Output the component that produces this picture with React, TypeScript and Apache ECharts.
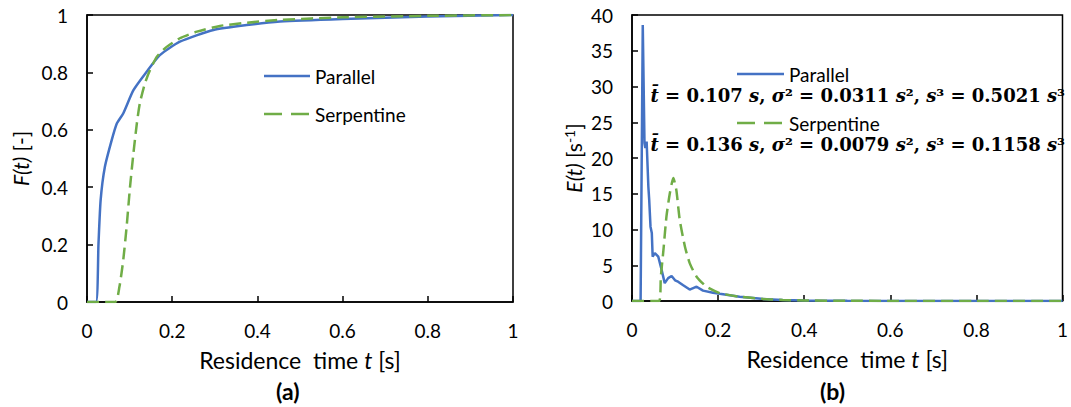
import React, { useEffect, useRef } from "react";
import * as echarts from "echarts";

// ---- Data ----
// (a) cumulative distribution F(t)
const T_F_PARALLEL = [0, 0.021, 0.027, 0.032, 0.042, 0.058, 0.070, 0.085, 0.109, 0.140, 0.171, 0.218, 0.297, 0.375, 0.453, 0.6, 0.8, 1.0];
const F_PARALLEL = [0, 0, 0.204, 0.355, 0.471, 0.564, 0.622, 0.657, 0.738, 0.802, 0.860, 0.907, 0.948, 0.965, 0.977, 0.986, 0.995, 1.0];
const T_F_SERPENTINE = [0, 0.066, 0.076, 0.085, 0.093, 0.101, 0.109, 0.117, 0.124, 0.136, 0.148, 0.164, 0.187, 0.218, 0.258, 0.312, 0.375, 0.453, 0.6, 0.8, 1.0];
const F_SERPENTINE = [0, 0, 0.052, 0.145, 0.262, 0.401, 0.518, 0.622, 0.692, 0.762, 0.808, 0.855, 0.889, 0.919, 0.942, 0.962, 0.973, 0.983, 0.992, 0.997, 1.0];

// (b) residence time distribution E(t)
const T_E_PARALLEL = [0, 0.020, 0.025, 0.029, 0.031, 0.034, 0.038, 0.040, 0.043, 0.046, 0.048, 0.053, 0.061, 0.069, 0.076, 0.084, 0.092, 0.100, 0.107, 0.119, 0.134, 0.150, 0.165, 0.188, 0.204, 0.25, 0.3, 0.35, 0.4, 0.5, 0.6, 0.8, 1.0];
const E_PARALLEL = [0, 0, 38.6, 22.1, 21.4, 22.3, 16.0, 14.1, 10.4, 9.5, 6.2, 6.7, 6.2, 4.3, 2.5, 3.2, 3.5, 2.9, 2.7, 2.2, 1.6, 2.0, 1.45, 1.15, 1.0, 0.6, 0.3, 0.15, 0.08, 0.03, 0.01, 0, 0];
const T_E_SERPENTINE = [0, 0.063, 0.067, 0.073, 0.080, 0.088, 0.096, 0.103, 0.111, 0.123, 0.134, 0.150, 0.173, 0.204, 0.25, 0.3, 0.35, 0.4, 0.5, 0.6, 0.8, 1.0];
const E_SERPENTINE = [0, 0, 3.4, 7.1, 11.8, 15.1, 17.2, 15.5, 11.3, 7.6, 5.3, 3.4, 2.0, 1.1, 0.6, 0.3, 0.15, 0.08, 0.03, 0.01, 0, 0];

const SERIES_NAMES = ["Parallel", "Serpentine"];
const STATS_PARALLEL = { tbar: "0.107", sigma2: "0.0311", s3: "0.5021" };
const STATS_SERPENTINE = { tbar: "0.136", sigma2: "0.0079", s3: "0.1158" };

const BLUE = "#4472C4";
const GREEN = "#70AD47";
const FONT = "Lato";
const MATH_FONT = "DejaVu Serif";

const zip = (xs: number[], ys: number[]) => xs.map((x, i) => [x, ys[i]]);

const mathLine = (s: { tbar: string; sigma2: string; s3: string }) =>
  `{mi|t\u0304}{m| = ${s.tbar} }{mi|s}{m|, }{mi|\u03C3}{m|\u00B2 = ${s.sigma2} }{mi|s}{m|\u00B2, }{mi|s}{m|\u00B3 = ${s.s3} }{mi|s}{m|\u00B3}`;

const mathRich = {
  m: { fontSize: 18, fontFamily: MATH_FONT, fontWeight: "bold", fill: "#000" },
  mi: { fontSize: 18, fontFamily: MATH_FONT, fontWeight: "bold", fontStyle: "italic", fill: "#000" },
};

const legendEntry = (x: number, y: number, label: string, color: string, dash: number[] | null, w: number) => [
  {
    type: "line",
    shape: { x1: x, y1: y, x2: x + w, y2: y },
    style: { stroke: color, lineWidth: 2.5, lineDash: dash ?? undefined },
  },
  {
    type: "text",
    x: x + w + 5,
    y,
    style: { text: label, fontSize: 19, fontFamily: FONT, fill: "#000", verticalAlign: "middle" },
  },
];

export default function App() {
  const ref = useRef<HTMLDivElement>(null);
  useEffect(() => {
    if (!ref.current) return;
    const chart = echarts.init(ref.current, undefined, { renderer: "svg" });

    const axisCommon = {
      type: "value" as const,
      axisLine: { show: true, onZero: false, lineStyle: { color: "#000", width: 1.5 } },
      axisTick: { show: true, inside: true, length: 6, lineStyle: { color: "#000", width: 1.5 } },
      splitLine: { show: false },
      axisLabel: { color: "#000", fontSize: 19, fontFamily: FONT, margin: 19 },
    };

    const xName = "{n|Residence  time }{i|t}{n| [s]}";
    const xNameStyle = {
      color: "#000",
      rich: {
        n: { fontSize: 23, fontFamily: FONT, color: "#000" },
        i: { fontSize: 23, fontFamily: FONT, fontStyle: "italic", color: "#000" },
      },
    };

    const lineSeries = (name: string, data: number[][], x: number, dashed: boolean, smooth: number | boolean) => ({
      type: "line" as const,
      name,
      xAxisIndex: x,
      yAxisIndex: x,
      data,
      symbol: "none",
      smooth,
      lineStyle: { color: dashed ? GREEN : BLUE, width: 2.5, type: dashed ? [12, 6] : "solid" },
      itemStyle: { color: dashed ? GREEN : BLUE },
    });

    chart.setOption({
      animation: false,
      grid: [
        { left: 87, top: 15, width: 426, height: 287, show: true, borderColor: "#000", borderWidth: 1.5, backgroundColor: "transparent" },
        { left: 632, top: 15, width: 432, height: 286, show: true, borderColor: "#000", borderWidth: 1.5, backgroundColor: "transparent" },
      ],
      xAxis: [
        { ...axisCommon, gridIndex: 0, min: 0, max: 1, interval: 0.2, name: xName, nameLocation: "middle", nameGap: 46, nameTextStyle: xNameStyle },
        { ...axisCommon, gridIndex: 1, min: 0, max: 1, interval: 0.2, name: xName, nameLocation: "middle", nameGap: 46, nameTextStyle: xNameStyle },
      ],
      yAxis: [
        {
          ...axisCommon, gridIndex: 0, min: 0, max: 1, interval: 0.2,
          name: "{i|F(t)}{n| [-]}", nameLocation: "middle", nameGap: 56,
          nameTextStyle: {
            rich: {
              n: { fontSize: 21, fontFamily: FONT, color: "#000" },
              i: { fontSize: 21, fontFamily: FONT, fontStyle: "italic", color: "#000" },
            },
          },
        },
        {
          ...axisCommon, gridIndex: 1, min: 0, max: 40, interval: 5,
          name: "{i|E(t)}{n| [s}{sup|-1}{n|]}", nameLocation: "middle", nameGap: 47,
          nameTextStyle: {
            rich: {
              n: { fontSize: 21, fontFamily: FONT, color: "#000" },
              i: { fontSize: 21, fontFamily: FONT, fontStyle: "italic", color: "#000" },
              sup: { fontSize: 14, fontFamily: FONT, color: "#000", padding: [0, 0, 9, 0] },
            },
          },
        },
      ],
      graphic: [
        ...legendEntry(264, 76, SERIES_NAMES[0], BLUE, null, 46),
        ...legendEntry(264, 114, SERIES_NAMES[1], GREEN, [18, 9], 46),
        ...legendEntry(737, 74, SERIES_NAMES[0], BLUE, null, 47),
        ...legendEntry(737, 123, SERIES_NAMES[1], GREEN, [18, 9], 47),
        {
          type: "text", right: 1071 - 1065, top: 86,
          style: { text: mathLine(STATS_PARALLEL), align: "right", rich: mathRich },
        },
        {
          type: "text", right: 1071 - 1065, top: 135,
          style: { text: mathLine(STATS_SERPENTINE), align: "right", rich: mathRich },
        },
        { type: "text", left: 276, top: 379, style: { text: "(a)", fontSize: 23, fontWeight: "bold", fontFamily: FONT, fill: "#000" } },
        { type: "text", left: 820, top: 379, style: { text: "(b)", fontSize: 23, fontWeight: "bold", fontFamily: FONT, fill: "#000" } },
      ],
      series: [
        lineSeries(SERIES_NAMES[0], zip(T_F_PARALLEL, F_PARALLEL), 0, false, 0.2),
        lineSeries(SERIES_NAMES[1], zip(T_F_SERPENTINE, F_SERPENTINE), 0, true, 0.2),
        lineSeries(SERIES_NAMES[0], zip(T_E_PARALLEL, E_PARALLEL), 1, false, false),
        lineSeries(SERIES_NAMES[1], zip(T_E_SERPENTINE, E_SERPENTINE), 1, true, 0.2),
      ],
    });
    return () => chart.dispose();
  }, []);
  return <div ref={ref} style={{ position: "absolute", left: 0, top: 0, width: 1071, height: 407 }} />;
}
